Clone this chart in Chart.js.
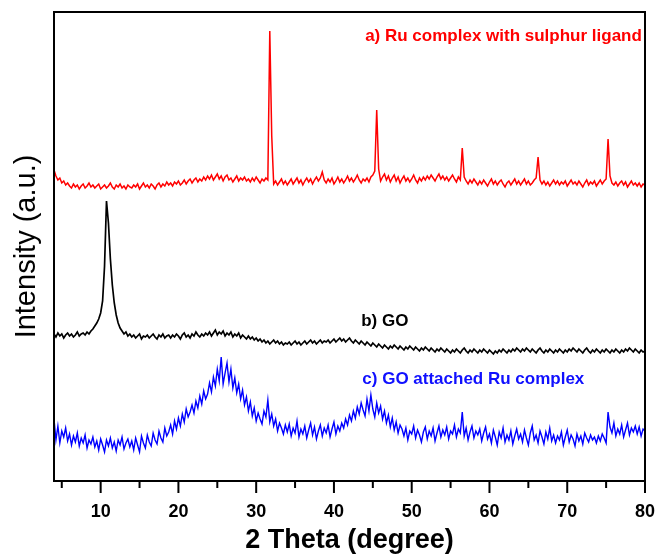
<!DOCTYPE html>
<html>
<head>
<meta charset="utf-8">
<script src="https://cdn.jsdelivr.net/npm/chart.js@4.4.1/dist/chart.umd.min.js"></script>
<style>
html,body{margin:0;padding:0;background:#fff;}
canvas{display:block;}
</style>
</head>
<body>
<canvas id="c" width="656" height="557"></canvas>
<script>
// 2θ scan positions (degree)
const twoTheta = [
4,4.25,4.5,4.75,5,5.25,5.5,5.75,6,6.25,6.5,6.75,7,7.25,7.5,7.75,8,8.25,8.5,8.75,
9,9.25,9.5,9.75,10,10.25,10.5,10.75,11,11.25,11.5,11.75,12,12.25,12.5,12.75,13,13.25,13.5,13.75,
14,14.25,14.5,14.75,15,15.25,15.5,15.75,16,16.25,16.5,16.75,17,17.25,17.5,17.75,18,18.25,18.5,18.75,
19,19.25,19.5,19.75,20,20.25,20.5,20.75,21,21.25,21.5,21.75,22,22.25,22.5,22.75,23,23.25,23.5,23.75,
24,24.25,24.5,24.75,25,25.25,25.5,25.75,26,26.25,26.5,26.75,27,27.25,27.5,27.75,28,28.25,28.5,28.75,
29,29.25,29.5,29.75,30,30.25,30.5,30.75,31,31.25,31.5,31.75,32,32.25,32.5,32.75,33,33.25,33.5,33.75,
34,34.25,34.5,34.75,35,35.25,35.5,35.75,36,36.25,36.5,36.75,37,37.25,37.5,37.75,38,38.25,38.5,38.75,
39,39.25,39.5,39.75,40,40.25,40.5,40.75,41,41.25,41.5,41.75,42,42.25,42.5,42.75,43,43.25,43.5,43.75,
44,44.25,44.5,44.75,45,45.25,45.5,45.75,46,46.25,46.5,46.75,47,47.25,47.5,47.75,48,48.25,48.5,48.75,
49,49.25,49.5,49.75,50,50.25,50.5,50.75,51,51.25,51.5,51.75,52,52.25,52.5,52.75,53,53.25,53.5,53.75,
54,54.25,54.5,54.75,55,55.25,55.5,55.75,56,56.25,56.5,56.75,57,57.25,57.5,57.75,58,58.25,58.5,58.75,
59,59.25,59.5,59.75,60,60.25,60.5,60.75,61,61.25,61.5,61.75,62,62.25,62.5,62.75,63,63.25,63.5,63.75,
64,64.25,64.5,64.75,65,65.25,65.5,65.75,66,66.25,66.5,66.75,67,67.25,67.5,67.75,68,68.25,68.5,68.75,
69,69.25,69.5,69.75,70,70.25,70.5,70.75,71,71.25,71.5,71.75,72,72.25,72.5,72.75,73,73.25,73.5,73.75,
74,74.25,74.5,74.75,75,75.25,75.5,75.75,76,76.25,76.5,76.75,77,77.25,77.5,77.75,78,78.25,78.5,78.75,
79,79.25,79.5,79.75,80
];

// a) Ru complex with sulphur ligand (offset intensity, a.u.)
const ruComplex = [
311,305,301,303,298,300,296,298,295,293,297,294,296,292,295,297,293,295,298,294,
296,293,295,297,292,294,296,293,295,298,294,292,296,294,297,293,295,292,296,294,
293,296,294,297,292,295,298,294,296,293,297,295,292,296,298,294,297,295,299,296,
298,295,299,297,300,296,298,301,297,300,302,298,301,303,299,302,300,304,301,305,
302,306,301,304,307,302,305,300,304,306,301,303,299,302,305,300,303,301,304,300,
302,299,303,300,304,301,298,302,300,303,301,450,345,297,300,296,299,302,297,300,
296,299,302,297,300,303,298,301,296,300,303,299,302,297,301,304,300,303,309,301,
298,302,299,303,297,300,304,299,302,298,301,305,300,303,299,302,306,301,298,302,
300,303,299,304,306,310,371,312,300,304,307,301,305,299,303,306,300,304,298,302,
305,300,303,299,302,306,301,298,303,300,304,301,305,302,306,303,300,304,307,302,
305,301,304,300,303,306,302,299,304,301,333,304,300,297,301,298,302,299,296,300,
297,301,298,295,299,302,297,300,296,299,301,297,294,298,300,296,299,302,297,300,
296,299,302,297,300,296,298,301,303,324,301,297,300,296,299,295,298,301,297,300,
296,299,297,300,295,298,301,297,299,296,300,297,294,298,301,296,299,297,300,295,
298,301,297,300,302,342,305,298,296,299,295,298,300,296,299,294,297,300,296,298,
295,298,294,297,296
];

// b) GO
const grapheneOxide = [
147,144,148,145,147,143,146,148,145,147,144,146,149,145,147,148,146,149,147,150,
152,155,158,162,168,180,215,280,258,222,196,178,166,158,153,150,147,149,145,147,
144,146,143,145,147,142,145,144,146,143,145,147,144,142,146,144,147,143,145,146,
143,146,144,147,145,142,146,148,144,146,143,147,145,149,146,144,147,145,148,146,
149,145,148,151,146,149,147,150,145,148,146,149,144,147,145,148,143,146,144,142,
145,142,144,141,143,140,142,139,141,138,140,137,139,141,138,140,137,139,136,138,
137,139,136,138,140,137,139,136,138,140,137,139,141,138,140,137,139,141,138,140,
139,141,138,140,142,139,141,143,140,142,139,141,143,140,138,141,139,137,140,138,
136,139,137,135,138,136,134,137,135,133,136,134,132,135,133,136,134,132,135,133,
131,134,132,135,133,131,134,132,130,133,131,134,132,130,133,131,129,132,130,133,
131,129,132,130,128,131,129,132,130,128,131,133,130,128,131,129,132,130,128,131,
129,132,130,128,131,129,127,130,128,131,129,132,130,128,131,129,132,130,133,131,
129,132,130,133,131,129,132,130,128,131,133,130,128,131,129,132,130,128,131,129,
132,130,128,131,129,132,130,133,131,129,132,130,128,131,133,130,128,131,129,132,
130,128,131,129,132,130,128,131,129,132,130,128,131,129,132,130,133,131,129,132,
130,128,131,129,130
];

// c) GO attached Ru complex
const goRuComplex = [
62,41,55,38,50,44,53,40,47,36,45,39,48,35,43,38,46,33,41,37,
44,34,40,31,42,36,29,41,35,43,33,39,30,41,36,44,32,38,42,34,
40,31,43,36,29,45,38,33,46,39,35,48,41,37,50,43,39,53,45,49,
56,47,60,52,63,55,67,59,72,64,69,76,68,80,73,85,77,90,82,87,
98,89,104,95,112,100,124,97,108,118,99,112,93,103,88,97,82,91,76,84,
70,79,65,73,60,68,62,57,70,64,81,59,67,55,62,50,58,53,47,56,
49,57,45,53,48,60,44,52,47,55,43,51,58,46,54,42,50,56,45,53,
48,56,44,52,59,47,55,50,58,53,62,56,66,60,70,63,74,67,78,71,
65,82,70,86,72,64,78,68,75,62,70,58,66,54,63,51,59,48,56,52,
45,53,41,50,47,55,43,51,46,39,49,54,42,50,45,53,40,48,55,44,
51,46,54,42,50,47,56,44,52,48,69,45,53,41,49,55,43,50,46,52,
40,48,54,42,47,38,51,44,36,49,43,53,39,46,41,50,37,45,52,42,
47,39,51,43,36,48,55,41,46,38,50,44,37,49,42,53,40,46,38,45,
41,49,36,44,51,39,46,42,35,47,40,45,37,48,43,39,46,41,44,38,
45,40,47,43,38,69,54,48,58,45,52,47,56,44,51,58,46,53,49,55,
47,54,45,52,50
];

const seriesLabels = ['a) Ru complex with sulphur ligand', 'b) GO', 'c) GO attached Ru complex'];
const majorTicks = [10,20,30,40,50,60,70,80];
const minorTicks = [5,15,25,35,45,55,65,75];

// label anchor positions (data coordinates) and styles
const labelAnchors = [
  {x: 79.6, y: 445, align: 'right', color: '#ff0000'},
  {x: 43.5, y: 160, align: 'left', color: '#000000'},
  {x: 43.65, y: 101.5, align: 'left', color: '#1010ff'}
];
const seriesColors = ['#ff0000', '#000000', '#0000ff'];
const seriesWidths = [1.5, 1.7, 1.4];
const FONT = '"Liberation Sans", Arial, sans-serif';

function pts(arr){ return twoTheta.map((t,i)=>({x:t, y:arr[i]})); }

const frameAndTicks = {
  id: 'frameAndTicks',
  afterDraw(chart){
    const {ctx, chartArea:a, scales} = chart;
    const xs = scales.x;
    ctx.save();
    ctx.strokeStyle = '#000';
    ctx.lineWidth = 2;
    ctx.strokeRect(a.left, a.top, a.right - a.left, a.bottom - a.top);
    ctx.beginPath();
    majorTicks.forEach(v=>{ const p = xs.getPixelForValue(v); ctx.moveTo(p, a.bottom); ctx.lineTo(p, a.bottom + 12); });
    minorTicks.forEach(v=>{ const p = xs.getPixelForValue(v); ctx.moveTo(p, a.bottom); ctx.lineTo(p, a.bottom + 7); });
    ctx.stroke();
    ctx.restore();
  },
  afterDatasetsDraw(chart){
    const {ctx, scales} = chart;
    ctx.save();
    ctx.font = 'bold 17px ' + FONT;
    ctx.textBaseline = 'middle';
    labelAnchors.forEach((l,i)=>{
      ctx.fillStyle = l.color;
      ctx.textAlign = l.align;
      ctx.fillText(seriesLabels[i], scales.x.getPixelForValue(l.x), scales.y.getPixelForValue(l.y));
    });
    ctx.restore();
  }
};

new Chart(document.getElementById('c'), {
  type: 'line',
  data: {
    datasets: [
      {label: seriesLabels[0], data: pts(ruComplex), borderColor: seriesColors[0], borderWidth: seriesWidths[0]},
      {label: seriesLabels[1], data: pts(grapheneOxide), borderColor: seriesColors[1], borderWidth: seriesWidths[1]},
      {label: seriesLabels[2], data: pts(goRuComplex), borderColor: seriesColors[2], borderWidth: seriesWidths[2]}
    ]
  },
  options: {
    responsive: false,
    animation: false,
    events: [],
    datasets: {line: {pointRadius: 0, tension: 0, fill: false}},
    layout: {padding: {top: 12, right: 11, left: 0, bottom: 0}},
    plugins: {legend: {display: false}, tooltip: {enabled: false}},
    scales: {
      x: {
        type: 'linear', min: 4, max: 80,
        afterBuildTicks(s){ s.ticks = majorTicks.map(v=>({value:v})); },
        afterFit(s){ s.height = 76; s.paddingRight = 0; s.paddingLeft = 0; },
        grid: {display: true, drawOnChartArea: false, drawTicks: true, tickLength: 12, tickColor: 'rgba(0,0,0,0)'},
        border: {display: false},
        ticks: {color: '#000', font: {family: FONT, size: 18, weight: 'bold'}, padding: 8, maxRotation: 0, autoSkip: false},
        title: {display: true, text: '2 Theta (degree)', color: '#000', font: {family: FONT, size: 27, weight: 'bold'}, padding: {top: 0, bottom: 0}}
      },
      y: {
        type: 'linear', min: 0, max: 469,
        afterFit(s){ s.width = 54; },
        grid: {display: false},
        border: {display: false},
        ticks: {display: false},
        title: {display: true, text: 'Intensity (a.u.)', color: '#000', font: {family: FONT, size: 29}, padding: {top: 10, bottom: 0}}
      }
    }
  },
  plugins: [frameAndTicks]
});
</script>
</body>
</html>
